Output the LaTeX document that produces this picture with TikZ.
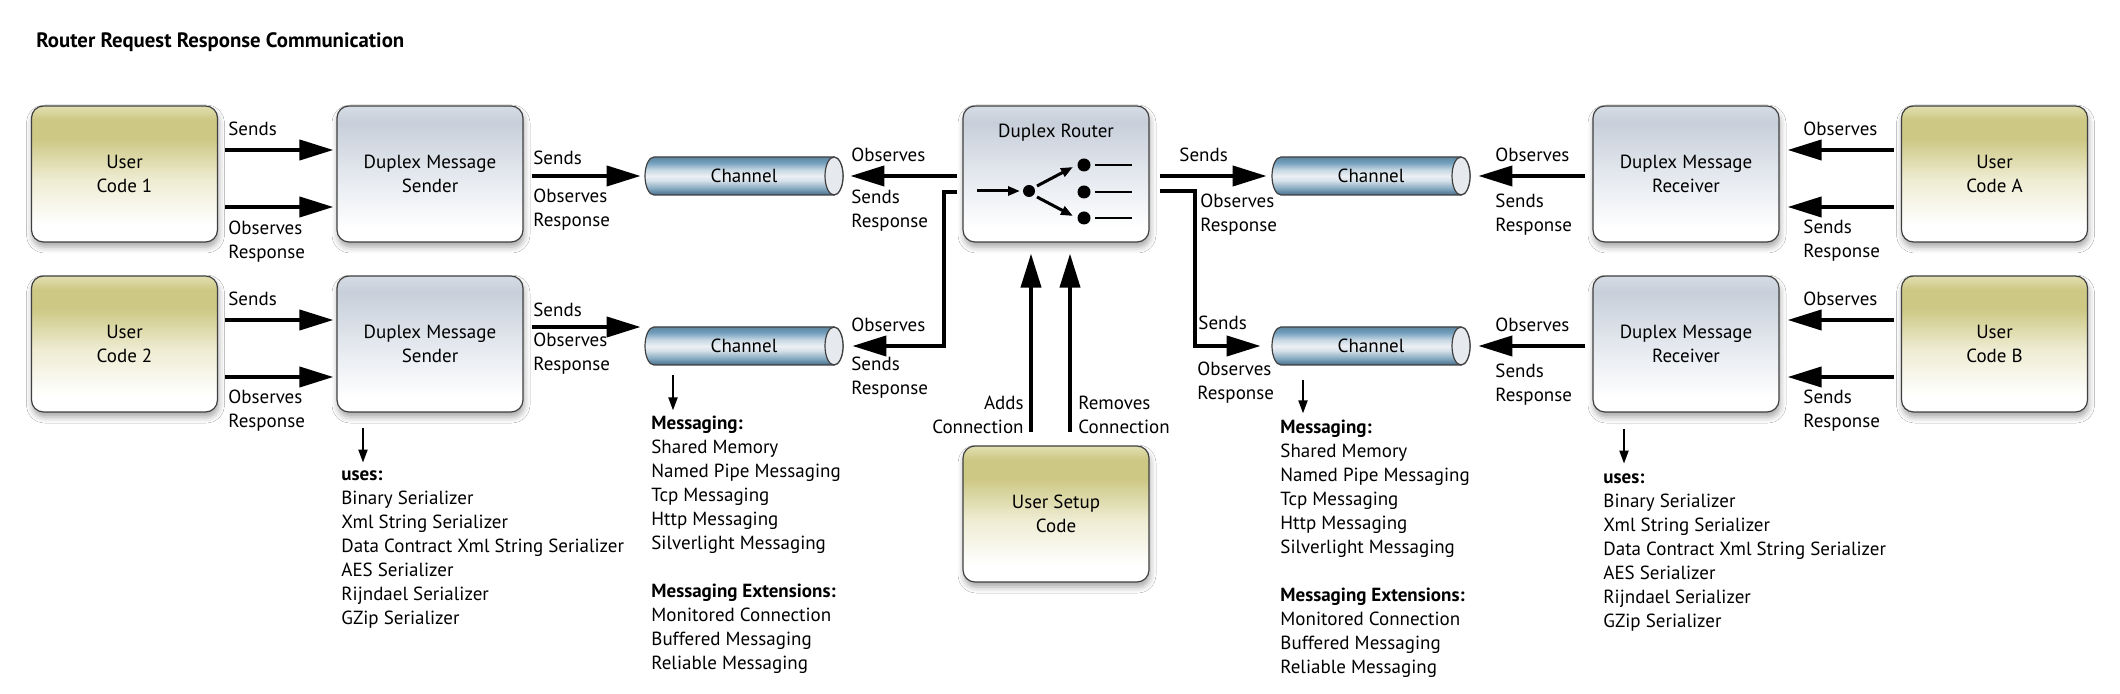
\documentclass[tikz,border=0pt]{standalone}
\usepackage{fontspec}
\setmainfont{PT Sans}
\usetikzlibrary{arrows.meta, shadows.blur}

\definecolor{olivetop}{RGB}{226,223,178}
\definecolor{olivemid}{RGB}{205,200,132}
\definecolor{olivepale}{RGB}{238,236,210}
\definecolor{duptop}{RGB}{214,220,228}
\definecolor{dupmid}{RGB}{199,207,218}
\definecolor{duppale}{RGB}{228,232,238}
\definecolor{tubedark}{RGB}{70,108,138}
\definecolor{tubemid}{RGB}{128,165,190}
\definecolor{tubelight}{RGB}{236,240,244}
\definecolor{tubetop}{RGB}{112,158,188}
\definecolor{tubecap}{RGB}{230,234,239}

% bottom (25bp) to top (75bp)
\pgfdeclareverticalshading{usershade}{100bp}{color(0bp)=(white); color(31bp)=(white);
  color(48bp)=(olivepale); color(63bp)=(olivemid); color(70bp)=(olivemid); color(75bp)=(olivetop); color(100bp)=(olivetop)}
\pgfdeclareverticalshading{duplexshade}{100bp}{color(0bp)=(white); color(30bp)=(white);
  color(50bp)=(duppale); color(69bp)=(dupmid); color(75bp)=(duptop); color(100bp)=(duptop)}
\pgfdeclareverticalshading{tubeshade}{100bp}{color(0bp)=(tubedark); color(25bp)=(tubedark);
  color(33bp)=(tubemid); color(44bp)=(tubelight!80!tubemid); color(50bp)=(tubelight);
  color(58bp)=(tubelight!70!tubetop); color(68bp)=(tubetop); color(75bp)=(tubetop!85!black); color(100bp)=(tubetop!85!black)}

% tube drawn first, then its label node on top
\newcommand\drawchannel[3]{%
  \begin{scope}[shift={(#2,#3)}]
    \shadedraw[tube] (-90,-19) arc[start angle=90, end angle=270, x radius=4.5pt, y radius=9.5pt]
      -- (90,19) arc[start angle=-90, end angle=90, x radius=4.5pt, y radius=9.5pt] -- cycle;
    \filldraw[tubeend] (90,0) ellipse [x radius=4.5pt, y radius=9.5pt];
  \end{scope}
  \node[chan] (#1) at (#2,#3) {Channel};
}

\begin{document}
\begin{tikzpicture}[x=0.5pt, y=-0.5pt, font=\fontsize{9.5}{12}\selectfont,
    box/.style={rounded corners=6pt, draw=black!75, line width=0.6pt, minimum width=93pt,
      minimum height=68pt, align=center, inner sep=0pt,
      blur shadow={shadow xshift=0.5pt, shadow yshift=-2.5pt, shadow blur radius=3pt, shadow opacity=35}},
    userbox/.style={box, shade, shading=usershade},
    duplexbox/.style={box, shade, shading=duplexshade},
    tube/.style={draw=black!75, line width=0.6pt, shading=tubeshade},
    tubeend/.style={fill=tubecap, draw=black!75, line width=0.6pt},
    chan/.style={minimum width=99pt, minimum height=19pt, inner sep=0pt},
    lbl/.style={inner sep=0pt, align=left, anchor=west},
    rlbl/.style={inner sep=0pt, align=right, anchor=east},
    list/.style={inner sep=0pt, align=left, anchor=north west},
    bigarr/.style={line width=2pt, -{Triangle[length=17pt,width=10pt]}},
    thinarr/.style={line width=1pt, -{Triangle[length=6.5pt,width=4.5pt]}},
    iconarr/.style={line width=1.5pt, -{Triangle[length=6pt,width=4.5pt]}}]

    \path[use as bounding box, fill=white] (0,0) rectangle (2120,694);

    \node[anchor=west, inner sep=0pt, font=\fontsize{10.4}{12}\selectfont\bfseries] (title) at (36,42)
      {Router Request Response Communication};

    % boxes
    \node[userbox] (user1) at (124.5,174) {User\\Code 1};
    \node[duplexbox] (send1) at (430,174) {Duplex Message\\Sender};
    \node[userbox] (user2) at (124.5,344) {User\\Code 2};
    \node[duplexbox] (send2) at (430,344) {Duplex Message\\Sender};
    \node[duplexbox] (router) at (1056,174) {};
    \node (routertitle) at ([yshift=-13.5pt]router.north) {Duplex Router};
    \node[userbox] (setup) at (1056,514) {User Setup\\Code};
    \node[duplexbox] (recv1) at (1686,174) {Duplex Message\\Receiver};
    \node[duplexbox] (recv2) at (1686,344) {Duplex Message\\Receiver};
    \node[userbox] (userA) at (1994.5,174) {User\\Code A};
    \node[userbox] (userB) at (1994.5,344) {User\\Code B};

    % channels
    \drawchannel{ch1}{744}{176}
    \drawchannel{ch2}{744}{346}
    \drawchannel{ch3}{1371}{176}
    \drawchannel{ch4}{1371}{346}

    % router icon
    \begin{scope}[shift={(router.center)}]
        \draw[iconarr] (-79,17) -- (-36,17);
        \fill (-27,17) circle (3pt);
        \draw[iconarr] (-19,12) -- (17,-7);
        \draw[iconarr] (-19,23) -- (17,42);
        \foreach \dy in {-9,18,44} {
            \fill (28,\dy) circle (3.25pt);
            \draw[line width=1pt] (39,\dy) -- (76,\dy);
        }
    \end{scope}

    % senders side
    \draw[bigarr] ([xshift=3.5pt,yshift=12pt]user1.east) -- ([xshift=-1.5pt,yshift=12pt]send1.west);
    \draw[bigarr] ([xshift=3.5pt,yshift=-16.5pt]user1.east) -- ([xshift=-1.5pt,yshift=-16.5pt]send1.west);
    \draw[bigarr] ([xshift=3.5pt,yshift=12pt]user2.east) -- ([xshift=-1.5pt,yshift=12pt]send2.west);
    \draw[bigarr] ([xshift=3.5pt,yshift=-16.5pt]user2.east) -- ([xshift=-1.5pt,yshift=-16.5pt]send2.west);
    \draw[bigarr] ([xshift=4pt,yshift=-1pt]send1.east) -- ([xshift=-2pt]ch1.west);
    \draw[bigarr] ([xshift=4pt,yshift=8.5pt]send2.east) -- ([xshift=-2pt,yshift=9.5pt]ch2.west);

    % router
    \draw[bigarr] ([xshift=-2.5pt,yshift=-1pt]router.west) -- ([xshift=3.5pt]ch1.east);
    \draw[bigarr] ([xshift=-2.5pt,yshift=-9pt]router.west) -- ++(-13,0) |- ([xshift=4.5pt]ch2.east);
    \draw[bigarr] ([xshift=5pt,yshift=-1pt]router.east) -- ([xshift=-2.5pt]ch3.west);
    \draw[bigarr] ([xshift=5pt,yshift=-8.5pt]router.east) -- ++(35,0) |- ([xshift=-5.5pt]ch4.west);
    \draw[bigarr] ([xshift=-12.5pt,yshift=6.5pt]setup.north) -- ([xshift=-12.5pt,yshift=-5.5pt]router.south);
    \draw[bigarr] ([xshift=7pt,yshift=6.5pt]setup.north) -- ([xshift=7pt,yshift=-5.5pt]router.south);

    % receivers side
    \draw[bigarr] ([xshift=-3.5pt,yshift=-1pt]recv1.west) -- ([xshift=4pt]ch3.east);
    \draw[bigarr] ([xshift=-3.5pt,yshift=-1pt]recv2.west) -- ([xshift=4pt]ch4.east);
    \draw[bigarr] ([xshift=-3.5pt,yshift=12pt]userA.west) -- ([xshift=4pt,yshift=12pt]recv1.east);
    \draw[bigarr] ([xshift=-3.5pt,yshift=-16.5pt]userA.west) -- ([xshift=4pt,yshift=-16.5pt]recv1.east);
    \draw[bigarr] ([xshift=-3.5pt,yshift=12pt]userB.west) -- ([xshift=4pt,yshift=12pt]recv2.east);
    \draw[bigarr] ([xshift=-3.5pt,yshift=-16.5pt]userB.west) -- ([xshift=4pt,yshift=-16.5pt]recv2.east);

    % labels
    \node[lbl] (u1sends) at (228,129) {Sends};
    \node[lbl] (u1obs) at (228,242) {Observes\\Response};
    \node[lbl] (s1sends) at (533,158) {Sends};
    \node[lbl] (s1obs) at (533,210) {Observes\\Response};
    \node[lbl] (u2sends) at (228,299) {Sends};
    \node[lbl] (u2obs) at (228,411) {Observes\\Response};
    \node[lbl] (s2sends) at (533,310) {Sends};
    \node[lbl] (s2obs) at (533,354) {Observes\\Response};
    \node[lbl] (c1obs) at (851,155) {Observes};
    \node[lbl] (c1sends) at (851,211) {Sends\\Response};
    \node[lbl] (c2obs) at (851,325) {Observes};
    \node[lbl] (c2sends) at (851,378) {Sends\\Response};
    \node[lbl] (c3sends) at (1179,155) {Sends};
    \node[lbl] (c3obs) at (1200,215) {Observes\\Response};
    \node[lbl] (c4sends) at (1198,323) {Sends};
    \node[lbl] (c4obs) at (1197,383) {Observes\\Response};
    \node[lbl] (r1obs) at (1495,155) {Observes};
    \node[lbl] (r1sends) at (1495,215) {Sends\\Response};
    \node[lbl] (r2obs) at (1495,325) {Observes};
    \node[lbl] (r2sends) at (1495,385) {Sends\\Response};
    \node[lbl] (uAobs) at (1803,129) {Observes};
    \node[lbl] (uAsends) at (1803,241) {Sends\\Response};
    \node[lbl] (uBobs) at (1803,299) {Observes};
    \node[lbl] (uBsends) at (1803,411) {Sends\\Response};
    \node[rlbl] (adds) at (1024,415) {Adds\\Connection};
    \node[lbl] (removes) at (1078,415) {Removes\\Connection};

    % lists
    \draw[thinarr] ([xshift=-33.5pt,yshift=-7.5pt]send2.south) -- ++(0,35);
    \node[list] (usesL) at (341,463) {\strut\textbf{uses:}\\Binary Serializer\\Xml String Serializer\\
      Data Contract Xml String Serializer\\AES Serializer\\Rijndael Serializer\\GZip Serializer};
    \draw[thinarr] ([xshift=-35.5pt,yshift=-5pt]ch2.south) -- ++(0,35);
    \node[list] (msgL) at (651,412) {\strut\textbf{Messaging:}\\Shared Memory\\Named Pipe Messaging\\
      Tcp Messaging\\Http Messaging\\Silverlight Messaging\\[12pt]\textbf{Messaging Extensions:}\\
      Monitored Connection\\Buffered Messaging\\Reliable Messaging};
    \draw[thinarr] ([xshift=-34pt,yshift=-7.5pt]ch4.south) -- ++(0,33);
    \node[list] (msgR) at (1280,416) {\strut\textbf{Messaging:}\\Shared Memory\\Named Pipe Messaging\\
      Tcp Messaging\\Http Messaging\\Silverlight Messaging\\[12pt]\textbf{Messaging Extensions:}\\
      Monitored Connection\\Buffered Messaging\\Reliable Messaging};
    \draw[thinarr] ([xshift=-31pt,yshift=-8pt]recv2.south) -- ++(0,35);
    \node[list] (usesR) at (1603,466) {\strut\textbf{uses:}\\Binary Serializer\\Xml String Serializer\\
      Data Contract Xml String Serializer\\AES Serializer\\Rijndael Serializer\\GZip Serializer};
\end{tikzpicture}
\end{document}
